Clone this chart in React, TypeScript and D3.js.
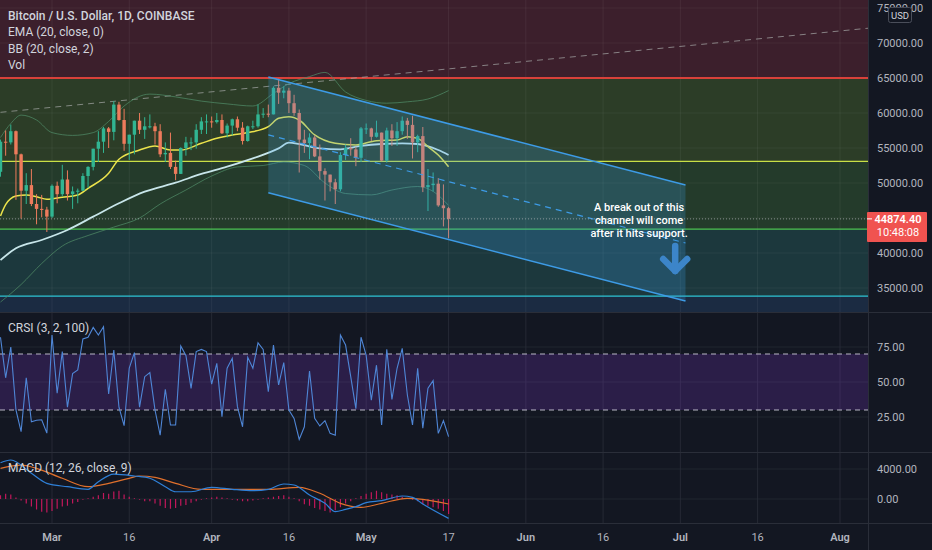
import * as d3 from 'd3'
import React from 'react'

const W = 932
const H = 550
const AXIS_X = 868
const PRICE_BOTTOM = 312
const CRSI_BOTTOM = 452
const MACD_BOTTOM = 523
const FONT = "Roboto, 'Noto Sans', sans-serif"

// daily candles, Feb 19 .. May 17 2021
const firstDay = '2021-02-19'
const opens = [
    51600, 55900, 55800, 57400, 54100, 48900, 49700, 47000, 46300, 46200,
    45200, 49600, 48400, 50500, 48400, 48800, 48900, 51000, 52300, 54900,
    55900, 57800, 57300, 61200, 59000, 55600, 56900, 58900, 57600, 58100,
    58100, 57400, 54100, 54300, 52300, 51300, 55000, 55800, 55800, 57600, 58800,
    58800, 58700, 59000, 57100, 58200, 59100, 57900, 56000, 58100, 58100,
    59800, 59900, 59800, 63600, 62900, 63200, 61400, 60000, 56200, 55700,
    56500, 53800, 51700, 51200, 50100, 49100, 54000, 55000, 54800, 53600,
    57800, 57800, 56600, 57200, 53200, 57500, 56400, 57400, 58900, 58300,
    55800, 56700, 49400, 49700, 49900, 46800, 46400,
]
const highs = [
    56200, 57500, 58350, 57500, 54200, 51400, 52000, 48400, 48300, 46600,
    49800, 50200, 52600, 51800, 49500, 49200, 51400, 52400, 54900, 57400,
    58000, 58000, 61700, 61600, 60600, 56900, 58900, 60000, 59400, 59800,
    58600, 58400, 55800, 57200, 53200, 55100, 56600, 56500, 58400, 59400, 59800,
    59500, 60000, 59800, 58500, 59200, 59500, 58700, 58200, 58900, 61200,
    60700, 61200, 63800, 64900, 63800, 63600, 62600, 60500, 57600, 57100,
    56800, 55500, 52100, 51200, 50600, 54400, 55500, 56400, 55200, 58000,
    58500, 57900, 58900, 57200, 57900, 58400, 58700, 59500, 59300, 59600,
    56900, 58000, 52000, 51500, 50700, 49800, 46600,
]
const lows = [
    50900, 53900, 55500, 47600, 44900, 47000, 46700, 44100, 45100, 43000,
    45000, 47100, 48100, 47500, 46300, 47100, 48900, 49300, 51800, 53000,
    54300, 55000, 56100, 58900, 54600, 53300, 54100, 57000, 56300, 57800,
    55500, 53700, 53000, 52000, 50400, 51300, 53900, 54700, 54900, 57000, 57000,
    57900, 58500, 57000, 56500, 56800, 57400, 55500, 55900, 57700, 57900,
    59300, 59400, 59800, 61300, 62100, 60000, 59600, 51500, 54300, 53400,
    53700, 50500, 47500, 48800, 47000, 48800, 53300, 53900, 52400, 53000,
    57000, 56000, 56500, 53100, 52900, 55300, 55300, 56900, 56300, 53500,
    54400, 48700, 46000, 48800, 46600, 43800, 42100,
]
const closes = [
    55900, 55800, 57400, 54100, 48900, 49700, 47000, 46300, 46200, 45200,
    49600, 48400, 50500, 48400, 48800, 48900, 51000, 52300, 54900, 55900,
    57800, 57300, 61200, 59000, 55600, 56900, 58900, 57600, 58100, 58100,
    57400, 54100, 54300, 52300, 51300, 55000, 55800, 55800, 57600, 58800, 58800,
    58700, 59000, 57100, 58200, 59100, 57900, 56000, 58100, 58100, 59800,
    59900, 59800, 63600, 62900, 63200, 61400, 60000, 56200, 55700, 56500,
    53800, 51700, 51200, 50100, 49100, 54000, 55000, 54800, 53600, 57800,
    57800, 56600, 57200, 53200, 57500, 56400, 57400, 58900, 58300, 55800,
    56700, 49400, 49700, 49900, 46800, 46400, 44874.4,
]
const lastPrice = 44874.4
const countdown = '10:48:08'

// indicator lines
const emaDates = [
    '2021-02-19', '2021-02-20', '2021-02-22', '2021-02-24', '2021-02-26', '2021-02-28',
    '2021-03-03', '2021-03-06', '2021-03-08', '2021-03-12', '2021-03-14', '2021-03-18',
    '2021-03-21', '2021-03-24', '2021-03-26', '2021-03-30', '2021-04-02', '2021-04-05',
    '2021-04-08', '2021-04-12', '2021-04-14', '2021-04-16', '2021-04-18', '2021-04-21',
    '2021-04-25', '2021-04-29', '2021-05-03', '2021-05-07', '2021-05-09', '2021-05-11',
    '2021-05-13', '2021-05-15', '2021-05-17',
]
const emaValues = [
    45300, 46900, 48140, 48290, 48040, 47670, 47960, 48290, 49240, 51390, 53390, 54710,
    55290, 54710, 54710, 55670, 56380, 56860, 57200, 58050, 59240, 59480, 59000, 56860,
    55670, 55430, 56050, 56140, 56620, 56380, 55190, 54000, 52330,
]
const slowDates = [
    '2021-02-19', '2021-02-22', '2021-02-27', '2021-03-04', '2021-03-09', '2021-03-14',
    '2021-03-19', '2021-03-25', '2021-03-30', '2021-04-04', '2021-04-09', '2021-04-14',
    '2021-04-16', '2021-04-18', '2021-04-22', '2021-04-26', '2021-04-30', '2021-05-04',
    '2021-05-08', '2021-05-11', '2021-05-15', '2021-05-17',
]
const slowValues = [
    39000, 40670, 41860, 43290, 45190, 47100, 48760, 50040, 51290, 52330, 53520, 54950,
    55760, 55570, 54950, 54810, 55290, 55570, 55670, 55570, 54710, 54000,
]
const bbUpperDates = [
    '2021-02-19', '2021-02-21', '2021-02-23', '2021-02-26', '2021-03-01', '2021-03-05',
    '2021-03-09', '2021-03-12', '2021-03-15', '2021-03-20', '2021-03-25', '2021-03-30',
    '2021-04-04', '2021-04-09', '2021-04-13', '2021-04-16', '2021-04-20', '2021-04-23',
    '2021-04-27', '2021-05-01', '2021-05-05', '2021-05-09', '2021-05-13', '2021-05-17',
]
const bbUpperValues = [
    56500, 58500, 59700, 59000, 57200, 56800, 57200, 58800, 61000, 62700, 62300, 61700,
    61300, 61000, 62800, 64200, 65200, 65800, 63000, 61800, 61400, 61600, 62000, 63200,
]
const bbLowerDates = [
    '2021-02-19', '2021-02-23', '2021-02-27', '2021-03-03', '2021-03-08', '2021-03-13',
    '2021-03-18', '2021-03-22', '2021-03-27', '2021-04-01', '2021-04-06', '2021-04-11',
    '2021-04-15', '2021-04-19', '2021-04-23', '2021-04-27', '2021-05-02', '2021-05-06',
    '2021-05-11', '2021-05-14', '2021-05-17',
]
const bbLowerValues = [
    33000, 35500, 38500, 41000, 42500, 43700, 45000, 47000, 49000, 51000, 52300, 52500,
    53000, 52500, 50000, 48500, 48300, 49000, 49500, 48800, 46800,
]

// horizontal zones and levels
const zoneEdges = [80000, 65000, 53100, 43400, 33850, 20000]
const levelPrices = [65000, 53100, 43400, 33850]

// drawings
const trendDates = ['2021-02-19', '2021-08-07']
const trendPrices = [60100, 72150]
const channelDates = ['2021-04-12', '2021-07-02']
const channelTop = [65150, 49700]
const channelBottom = [48600, 33150]
const noteDate = '2021-06-23'
const notePrice = 46000
const noteLines = ['A break out of this', 'channel will come', 'after it hits support.']
const arrowDate = '2021-06-30'
const arrowPrices = [41430, 37000]

// CRSI (3, 2, 100), one value per candle
const crsiValues = [
    82, 53, 75, 30, 14.5, 53, 21.6, 22.7, 23, 13.5,
    83.6, 42, 71.7, 32, 56, 58.6, 80.7, 82, 89, 83.6,
    89.5, 41.4, 72.9, 32, 18.8, 60, 71, 32, 53.8, 56.7,
    30, 12, 44.8, 19.3, 19.3, 75.7, 69, 45.5, 71.7, 73.3,
    71.7, 48.4, 63.3, 25.2, 59.8, 66.9, 32.4, 18, 67.6, 59.8,
    78, 73.3, 43, 76.4, 47.9, 63.8, 30, 24, 9, 18,
    57.9, 24, 18.6, 22.4, 13.3, 12, 83.6, 76.4, 53.8, 31,
    82, 69, 37, 62, 19.3, 73.3, 37.6, 59.8, 74, 40.7,
    19.3, 59.8, 17, 45.5, 51, 13.3, 22.4, 11,
]
const crsiBands = [30, 70]
const crsiTicks = [25, 50, 75]

// MACD (12, 26, close, 9)
const macdDates = [
    '2021-02-19', '2021-02-21', '2021-02-25', '2021-02-28', '2021-03-04', '2021-03-08',
    '2021-03-10', '2021-03-13', '2021-03-17', '2021-03-20', '2021-03-23', '2021-03-25',
    '2021-03-28', '2021-04-01', '2021-04-05', '2021-04-09', '2021-04-12', '2021-04-15',
    '2021-04-17', '2021-04-20', '2021-04-23', '2021-04-25', '2021-04-27', '2021-04-29',
    '2021-05-01', '2021-05-04', '2021-05-08', '2021-05-10', '2021-05-12', '2021-05-17',
]
const macdValues = [
    4840, 5200, 3420, 2090, 1640, 1290, 2310, 3330, 3070, 2760, 1640, 970,
    970, 1560, 1290, 1110, 1290, 2000, 1870, 530, -580, -1690, -1380, -1020,
    -490, -220, 400, 220, -670, -2580,
]
const signalDates = [
    '2021-02-19', '2021-02-23', '2021-02-26', '2021-03-03', '2021-03-08', '2021-03-12',
    '2021-03-16', '2021-03-18', '2021-03-21', '2021-03-25', '2021-03-30', '2021-04-05',
    '2021-04-12', '2021-04-18', '2021-04-22', '2021-04-26', '2021-04-30', '2021-05-04',
    '2021-05-09', '2021-05-12', '2021-05-17',
]
const signalValues = [
    4090, 4530, 4090, 2760, 1640, 2090, 2760, 3070, 2890, 2090, 1290, 1290,
    1290, 1560, 760, -580, -1110, -580, 90, -40, -670,
]
const histValues = [
    500, 700, 600, 200, -200, -600, -1000, -1400, -1700, -1800,
    -1600, -1300, -1000, -900, -600, -400, -100, 100, 300, 500,
    800, 700, 1000, 1100, 600, 300, 100, -100, -300, -300,
    -600, -900, -1200, -1300, -1200, -900, -800, -500, -300, -100,
    100, 200, 300, 200, 100, -100, -200, -300, -300, -200,
    -100, 100, 200, 300, 400, 500, 300, 100, -300, -700,
    -900, -1200, -1400, -1600, -1800, -1500, -1100, -600, -300, 100,
    400, 700, 900, 1100, 900, 700, 600, 500, 300, 100,
    -100, -300, -700, -900, -1100, -1300, -1600, -2000,
]
const macdTicks = [0, 4000]

// axes
const priceTicks = [35000, 40000, 45000, 50000, 55000, 60000, 65000, 70000, 75000]
const timeTickDates = [
    '2021-03-01', '2021-03-16', '2021-04-01', '2021-04-16', '2021-05-01', '2021-05-17',
    '2021-06-01', '2021-06-16', '2021-07-01', '2021-07-16', '2021-08-01',
]
const timeTickLabels = ['Mar', '16', 'Apr', '16', 'May', '17', 'Jun', '16', 'Jul', '16', 'Aug']

const legendLines = ['Bitcoin / U.S. Dollar, 1D, COINBASE', 'EMA (20, close, 0)', 'BB (20, close, 2)', 'Vol']

const zoneFills = ['#3c1f2c', '#2c3d27', '#243b2b', '#1c383d', '#1b2b42']
const levelColors = ['#d8413a', '#c9e046', '#4cc552', '#2ec4d4']

const parse = d3.utcParse('%Y-%m-%d')

const App = (): JSX.Element => {
    const x = d3.scaleUtc().domain([parse('2021-03-01')!, parse('2021-08-01')!]).range([52, 840])
    const y = d3.scaleLinear().domain([35000, 65000]).range([288, 78])
    const yC = d3.scaleLinear().domain([0, 100]).range([CRSI_BOTTOM, PRICE_BOTTOM])
    const yM = d3.scaleLinear().domain([0, 4000]).range([499, 469])

    const start = parse(firstDay)!
    const days = opens.map((_, i) => d3.utcDay.offset(start, i))

    const pts = (dates: string[], vals: number[]) => dates.map((d, i) => [parse(d)!, vals[i]] as [Date, number])
    const priceLine = d3
        .line<[Date, number]>()
        .x((d) => x(d[0]))
        .y((d) => y(d[1]))
        .curve(d3.curveMonotoneX)
    const macdLine = d3
        .line<[Date, number]>()
        .x((d) => x(d[0]))
        .y((d) => yM(d[1]))
        .curve(d3.curveMonotoneX)
    const crsiLine = d3
        .line<number>()
        .x((_, i) => x(days[i]))
        .y((d) => yC(d))

    const bodyW = 3.4

    // channel geometry
    const c0 = x(parse(channelDates[0])!)
    const c1 = x(parse(channelDates[1])!)
    const channelPoly = [
        [c0, y(channelTop[0])],
        [c1, y(channelTop[1])],
        [c1, y(channelBottom[1])],
        [c0, y(channelBottom[0])],
    ]
    const midL = (y(channelTop[0]) + y(channelBottom[0])) / 2
    const midR = (y(channelTop[1]) + y(channelBottom[1])) / 2

    const ax = x(parse(arrowDate)!)
    const aTop = y(arrowPrices[0])
    const aTip = y(arrowPrices[1])

    const lastY = y(lastPrice)
    // axis labels hidden behind the last-price tag
    const shownTicks = priceTicks.filter((p) => Math.abs(y(p) - lastY) > 16)

    return (
        <svg
            width={W}
            height={H}
            style={{ position: 'absolute', left: 0, top: 0, background: '#131722', fontFamily: FONT }}
        >
            <defs>
                <clipPath id="clipPrice">
                    <rect x={0} y={0} width={AXIS_X} height={PRICE_BOTTOM} />
                </clipPath>
                <clipPath id="clipCrsi">
                    <rect x={0} y={PRICE_BOTTOM} width={AXIS_X} height={CRSI_BOTTOM - PRICE_BOTTOM} />
                </clipPath>
                <clipPath id="clipMacd">
                    <rect x={0} y={CRSI_BOTTOM} width={AXIS_X} height={MACD_BOTTOM - CRSI_BOTTOM} />
                </clipPath>
            </defs>

            {/* price pane */}
            <g clipPath="url(#clipPrice)">
                {zoneFills.map((fill, i) => (
                    <rect
                        key={`z${i}`}
                        x={0}
                        y={y(zoneEdges[i])}
                        width={AXIS_X}
                        height={y(zoneEdges[i + 1]) - y(zoneEdges[i])}
                        fill={fill}
                    />
                ))}
                {priceTicks.map((p) => (
                    <line key={`pg${p}`} x1={0} x2={AXIS_X} y1={y(p)} y2={y(p)} stroke="#ffffff" strokeOpacity={0.05} />
                ))}
                {timeTickDates.map((d) => (
                    <line
                        key={`vg${d}`}
                        x1={x(parse(d)!)}
                        x2={x(parse(d)!)}
                        y1={0}
                        y2={PRICE_BOTTOM}
                        stroke="#ffffff"
                        strokeOpacity={0.06}
                    />
                ))}
                {levelPrices.map((p, i) => (
                    <line
                        key={`lv${p}`}
                        x1={0}
                        x2={AXIS_X}
                        y1={y(p)}
                        y2={y(p)}
                        stroke={levelColors[i]}
                        strokeWidth={i === 0 ? 2 : 1.2}
                    />
                ))}
                <line
                    x1={x(parse(trendDates[0])!)}
                    y1={y(trendPrices[0])}
                    x2={x(parse(trendDates[1])!)}
                    y2={y(trendPrices[1])}
                    stroke="#a7a9a8"
                    strokeOpacity={0.7}
                    strokeDasharray="6 5"
                />
                <path d={priceLine(pts(bbUpperDates, bbUpperValues)) || ''} fill="none" stroke="#4f8a66" strokeOpacity={0.75} />
                <path d={priceLine(pts(bbLowerDates, bbLowerValues)) || ''} fill="none" stroke="#4f8a66" strokeOpacity={0.75} />
                <path d={priceLine(pts(slowDates, slowValues)) || ''} fill="none" stroke="#c8e6ea" strokeWidth={1.8} />
                <path d={priceLine(pts(emaDates, emaValues)) || ''} fill="none" stroke="#ece44c" strokeWidth={1.5} />

                {days.map((d, i) => {
                    const up = closes[i] >= opens[i]
                    const color = up ? '#31b592' : '#ee7b5c'
                    const cx = x(d)
                    const top = y(Math.max(opens[i], closes[i]))
                    const bot = y(Math.min(opens[i], closes[i]))
                    return (
                        <g key={`c${i}`}>
                            <line x1={cx} x2={cx} y1={y(highs[i])} y2={y(lows[i])} stroke={color} strokeWidth={1} />
                            <rect
                                x={cx - bodyW / 2}
                                y={top}
                                width={bodyW}
                                height={Math.max(1, bot - top)}
                                fill={color}
                            />
                        </g>
                    )
                })}

                {/* parallel channel */}
                <polygon points={channelPoly.map((p) => p.join(',')).join(' ')} fill="#3aa0e8" fillOpacity={0.24} />
                <line x1={c0} y1={channelPoly[0][1]} x2={c1} y2={channelPoly[1][1]} stroke="#3d9be6" strokeWidth={1.5} />
                <line x1={c0} y1={channelPoly[3][1]} x2={c1} y2={channelPoly[2][1]} stroke="#3d9be6" strokeWidth={1.5} />
                <line x1={c0} y1={midL} x2={c1} y2={midR} stroke="#3d9be6" strokeWidth={1.2} strokeDasharray="6 5" />

                <line x1={0} x2={AXIS_X} y1={lastY} y2={lastY} stroke="#b0b3bb" strokeOpacity={0.7} strokeDasharray="1 2" />

                <text
                    x={x(parse(noteDate)!)}
                    y={y(notePrice)}
                    textAnchor="middle"
                    fontSize={11}
                    fontWeight={500}
                    fill="#ffffff"
                >
                    {noteLines.map((t, i) => (
                        <tspan key={`n${i}`} x={x(parse(noteDate)!)} dy={i === 0 ? 0 : 13}>
                            {t}
                        </tspan>
                    ))}
                </text>
                <g stroke="#3c85c9" strokeWidth={6.5} strokeLinecap="round" strokeLinejoin="round" fill="none">
                    <line x1={ax} x2={ax} y1={aTop + 3} y2={aTip - 3} />
                    <polyline points={`${ax - 12},${aTip - 15} ${ax},${aTip - 3} ${ax + 12},${aTip - 15}`} />
                </g>

                {legendLines.map((t, i) => (
                    <text
                        key={`lg${i}`}
                        x={8}
                        y={20 + i * 16.3}
                        fontSize={12}
                        fontWeight={i === 0 ? 500 : 400}
                        fill="#d1d4dc"
                    >
                        {t}
                    </text>
                ))}
            </g>

            {/* CRSI pane */}
            <g clipPath="url(#clipCrsi)">
                {timeTickDates.map((d) => (
                    <line
                        key={`cg${d}`}
                        x1={x(parse(d)!)}
                        x2={x(parse(d)!)}
                        y1={PRICE_BOTTOM}
                        y2={CRSI_BOTTOM}
                        stroke="#2a2e39"
                        strokeOpacity={0.8}
                    />
                ))}
                {crsiTicks.map((t) => (
                    <line key={`ct${t}`} x1={0} x2={AXIS_X} y1={yC(t)} y2={yC(t)} stroke="#2a2e39" strokeOpacity={0.6} />
                ))}
                <rect
                    x={0}
                    y={yC(crsiBands[1])}
                    width={AXIS_X}
                    height={yC(crsiBands[0]) - yC(crsiBands[1])}
                    fill="#8a3adf"
                    fillOpacity={0.2}
                />
                {crsiBands.map((b) => (
                    <line
                        key={`cb${b}`}
                        x1={0}
                        x2={AXIS_X}
                        y1={yC(b)}
                        y2={yC(b)}
                        stroke="#d6d3e0"
                        strokeOpacity={0.85}
                        strokeDasharray="5 4"
                    />
                ))}
                <path d={crsiLine(crsiValues) || ''} fill="none" stroke="#4f86d6" strokeWidth={1.1} />
                <text x={8} y={332} fontSize={12} fill="#d1d4dc">
                    CRSI (3, 2, 100)
                </text>
            </g>

            {/* MACD pane */}
            <g clipPath="url(#clipMacd)">
                {timeTickDates.map((d) => (
                    <line
                        key={`mg${d}`}
                        x1={x(parse(d)!)}
                        x2={x(parse(d)!)}
                        y1={CRSI_BOTTOM}
                        y2={MACD_BOTTOM}
                        stroke="#2a2e39"
                        strokeOpacity={0.8}
                    />
                ))}
                {macdTicks.map((t) => (
                    <line key={`mt${t}`} x1={0} x2={AXIS_X} y1={yM(t)} y2={yM(t)} stroke="#2a2e39" strokeOpacity={0.6} />
                ))}
                {histValues.map((v, i) => (
                    <line
                        key={`h${i}`}
                        x1={x(days[i])}
                        x2={x(days[i])}
                        y1={yM(0)}
                        y2={yM(v)}
                        stroke="#c2185b"
                        strokeWidth={1.2}
                    />
                ))}
                <path d={macdLine(pts(signalDates, signalValues)) || ''} fill="none" stroke="#e0702c" strokeWidth={1.2} />
                <path d={macdLine(pts(macdDates, macdValues)) || ''} fill="none" stroke="#2f80d8" strokeWidth={1.2} />
                <text x={8} y={472} fontSize={12} fill="#d1d4dc">
                    MACD (12, 26, close, 9)
                </text>
            </g>

            {/* separators */}
            {[PRICE_BOTTOM, CRSI_BOTTOM, MACD_BOTTOM].map((v) => (
                <line key={`sep${v}`} x1={0} x2={W} y1={v + 0.5} y2={v + 0.5} stroke="#2a2e39" />
            ))}
            <line x1={AXIS_X + 0.5} x2={AXIS_X + 0.5} y1={0} y2={H} stroke="#2a2e39" />

            {/* right axes */}
            <g fontSize={11} fill="#b2b5be">
                {shownTicks.map((p) => (
                    <text key={`pl${p}`} x={877} y={y(p)} dominantBaseline="central">
                        {d3.format('.2f')(p)}
                    </text>
                ))}
                {crsiTicks.map((t) => (
                    <text key={`cl${t}`} x={877} y={yC(t)} dominantBaseline="central">
                        {d3.format('.2f')(t)}
                    </text>
                ))}
                {macdTicks.map((t) => (
                    <text key={`ml${t}`} x={877} y={yM(t)} dominantBaseline="central">
                        {d3.format('.2f')(t)}
                    </text>
                ))}
            </g>
            <rect x={888.5} y={7.5} width={23} height={15} rx={2} fill="#131722" stroke="#4a4e5a" />
            <text x={900} y={15.5} fontSize={9.5} fill="#d1d4dc" textAnchor="middle" dominantBaseline="central">
                USD
            </text>
            <rect x={867} y={lastY - 7} width={60} height={30} rx={1} fill="#f05350" />
            <line x1={867} x2={872} y1={lastY} y2={lastY} stroke="#ffffff" />
            <text x={898} y={lastY + 4} fontSize={11} fill="#ffffff" textAnchor="middle">
                <tspan x={898} fontWeight={600}>
                    {d3.format('.2f')(lastPrice)}
                </tspan>
                <tspan x={898} dy={13.5}>
                    {countdown}
                </tspan>
            </text>

            {/* time axis */}
            {timeTickDates.map((d, i) => (
                <text
                    key={`tl${d}`}
                    x={x(parse(d)!)}
                    y={537}
                    fontSize={11}
                    fontWeight={/^\d/.test(timeTickLabels[i]) ? 400 : 600}
                    fill="#b2b5be"
                    textAnchor="middle"
                    dominantBaseline="central"
                >
                    {timeTickLabels[i]}
                </text>
            ))}
        </svg>
    )
}

export default App
